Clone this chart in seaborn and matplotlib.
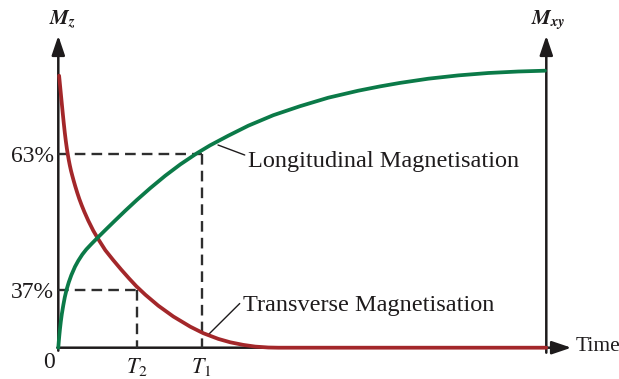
import matplotlib
matplotlib.use("Agg")
import matplotlib.pyplot as plt
import pandas as pd
import seaborn as sns

# Longitudinal (Mz) recovery curve: time (a.u.) vs magnitude (a.u.)
long_time = [0, 0.5, 1, 1.7, 2.5, 3.5, 5, 6.5, 8.4, 10.5, 13, 16.7, 20, 24, 28, 33,
             40, 48, 56.7, 67, 78.4, 92, 107, 122, 138.7, 151.7, 170, 190, 215,
             241.7, 270, 300, 321.7, 341.7, 370, 400, 430, 460, 486.7]
long_mag = [0, 6.5, 12, 19, 26, 33.5, 42.5, 50.5, 58.5, 65.5, 72.5, 81, 87, 93.2,
            98.3, 103.6, 110.7, 118.6, 127.1, 137, 147.6, 159.6, 172, 183.3, 194.5,
            202.3, 212, 222, 232.5, 241.5, 250, 257, 261.3, 264.8, 269, 272.3,
            274.7, 276.2, 277]

# Transverse (Mxy) decay curve
trans_time = [0.8, 2, 3.4, 4.5, 5.5, 6.5, 7.5, 8.5, 9.5, 10.5, 11.5, 12.7, 14, 15.5,
              17, 19, 21, 23.4, 26, 30, 35, 40, 47, 55, 63, 71, 78, 87, 100, 115,
              132, 145, 160, 172, 185, 197, 210, 220, 488]
trans_mag = [272, 259.6, 245.2, 234, 224.2, 215, 206.8, 199.6, 193.2, 187.5, 182.4,
             177, 172, 166.5, 161.3, 154.8, 148.8, 142.4, 136, 127, 117, 108.5,
             97.5, 87.5, 78, 69, 61.5, 53, 42, 31.2, 21, 14.5, 8.8, 5.4, 2.8, 1.1,
             0.2, 0, 0]

# Characteristic times and reference levels
time_marks = [78.4, 143.4]
time_labels = [r"$T_{\mathit{2}}$", r"$T_{\mathit{1}}$"]
level_marks = [193.7, 57.7]
level_labels = ["63%", "37%"]
t_end = 488

GREEN = "#0b7a48"
RED = "#a3272a"
INK = "#1e1b1c"
DASH = "#2e2e2e"

sns.set_theme(style="white")
plt.rcParams["font.family"] = ["Liberation Serif", "DejaVu Serif"]
plt.rcParams["mathtext.fontset"] = "stix"

fig = plt.figure(figsize=(6.19, 3.79), dpi=100)
ax = fig.add_axes([58.3 / 619, (379 - 347.7) / 379, t_end / 619, 300 / 379])
ax.set_xlim(0, t_end)
ax.set_ylim(0, 300)
for s in ax.spines.values():
    s.set_visible(False)
ax.set_facecolor("none")

# Axes with arrowheads
arrow_kw = dict(arrowstyle="-|>,head_length=0.65,head_width=0.22", color=INK,
                lw=1.8, shrinkA=0, shrinkB=0, mutation_scale=18)
ax.annotate("", xy=(0, 312), xytext=(0, -3), arrowprops=arrow_kw,
            annotation_clip=False, zorder=2)
ax.annotate("", xy=(t_end, 312), xytext=(t_end, -5), arrowprops=arrow_kw,
            annotation_clip=False, zorder=2)
ax.annotate("", xy=(513, 0), xytext=(-1, 0), arrowprops=arrow_kw,
            annotation_clip=False, zorder=2)

# Dashed guides for T1 (63%) and T2 (37%)
for tm, lv in zip(time_marks[::-1], level_marks):
    ax.plot([0, tm], [lv, lv], color=DASH, lw=1.7, dashes=(4.5, 2.6), zorder=3)
    ax.plot([tm, tm], [lv, 0], color=DASH, lw=1.7, dashes=(4.5, 2.6), zorder=3)

# Curves
df_long = pd.DataFrame({"time": long_time, "mag": long_mag})
df_trans = pd.DataFrame({"time": trans_time, "mag": trans_mag})
sns.lineplot(data=df_trans, x="time", y="mag", ax=ax, color=RED, lw=2.7,
             sort=False, estimator=None, zorder=5, clip_on=False)
sns.lineplot(data=df_long, x="time", y="mag", ax=ax, color=GREEN, lw=2.7,
             sort=False, estimator=None, zorder=6, clip_on=False)

# Ticks
ax.set_xticks(time_marks)
ax.set_xticklabels(time_labels, fontsize=16)
ax.set_yticks(level_marks)
ax.set_yticklabels(level_labels, fontsize=17)
ax.tick_params(length=0, colors=INK)
ax.tick_params(axis="x", pad=6)
ax.tick_params(axis="y", pad=3)
ax.set_xlabel("")
ax.set_ylabel("")

ax.annotate("0", xy=(0, 0), xytext=(-6.5, -10.5), textcoords="offset points",
            ha="center", va="center", fontsize=17, color=INK, annotation_clip=False)

# Axis titles
ax.text(3.7, 328, r"$\mathbfit{M}_{\mathbfit{z}}$", ha="center", va="center",
        fontsize=15, color=INK, clip_on=False)
ax.text(t_end + 2, 328, r"$\mathbfit{M}_{\mathbfit{xy}}$", ha="center",
        va="center", fontsize=15, color=INK, clip_on=False)
ax.text(517, 1.5, "Time", ha="left", va="center", fontsize=15.5, color=INK,
        clip_on=False)

# Curve labels with leader lines
ax.annotate("Longitudinal Magnetisation", xy=(159.7, 202.7), xytext=(189.7, 180.7),
            ha="left", va="baseline", fontsize=17.5, color=INK,
            arrowprops=dict(arrowstyle="-", color=INK, lw=1.0, shrinkA=0, shrinkB=0,
                            relpos=(0, 0.75)))
ax.annotate("Transverse Magnetisation", xy=(149.7, 12.7), xytext=(184.7, 36.7),
            ha="left", va="baseline", fontsize=17.5, color=INK,
            arrowprops=dict(arrowstyle="-", color=INK, lw=1.0, shrinkA=0, shrinkB=0,
                            relpos=(0, 0.75)))

fig.savefig("out.png", dpi=100)
